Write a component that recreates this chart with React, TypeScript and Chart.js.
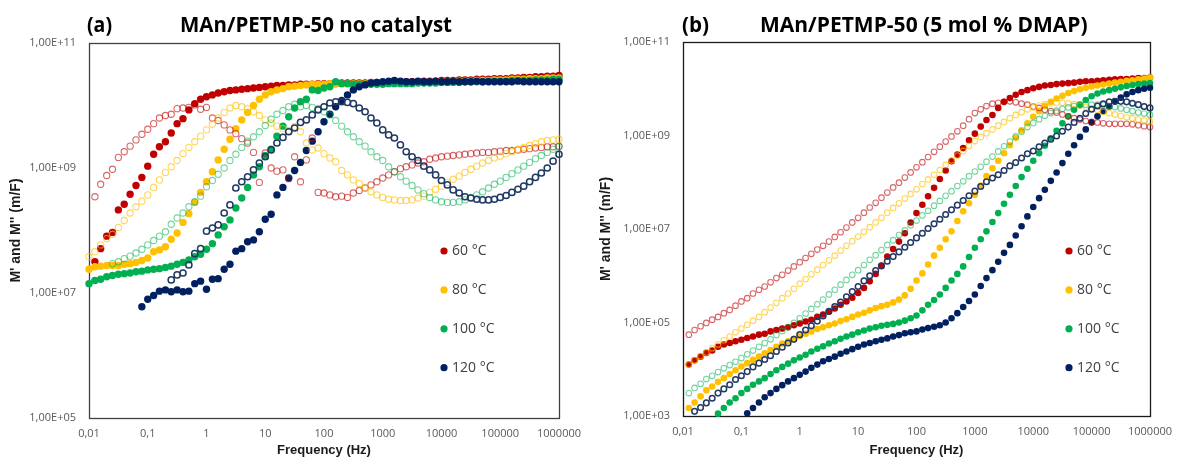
import React, { useEffect, useRef } from "react";
import { Chart, registerables } from "chart.js";

Chart.register(...registerables);

// Measurement frequencies (Hz), 10 points per decade
const FREQ_HZ = [
  0.01,
  0.0126, 0.0158, 0.02, 0.0251, 0.0316, 0.0398, 0.0501, 0.0631, 0.0794, 0.1,
  0.126, 0.158, 0.2, 0.251, 0.316, 0.398, 0.501, 0.631, 0.794, 1,
  1.26, 1.58, 2, 2.51, 3.16, 3.98, 5.01, 6.31, 7.94, 10,
  12.6, 15.8, 20, 25.1, 31.6, 39.8, 50.1, 63.1, 79.4, 100,
  126, 158, 200, 251, 316, 398, 501, 631, 794, 1000,
  1260, 1580, 2000, 2510, 3160, 3980, 5010, 6310, 7940, 10000,
  12600, 15800, 20000, 25100, 31600, 39800, 50100, 63100, 79400, 100000,
  126000, 158000, 200000, 251000, 316000, 398000, 501000, 631000, 794000, 1000000,
];

const X_TICK_VALUES = [0.01, 0.1, 1, 10, 100, 1000, 10000, 100000, 1000000];
const X_TICK_LABELS = ["0,01", "0,1", "1", "10", "100", "1000", "10000", "100000", "1000000"];
const Y_TICK_VALUES_A = [1e5, 1e7, 1e9, 1e11];
const Y_TICK_LABELS_A = ["1,00E+05", "1,00E+07", "1,00E+09", "1,00E+11"];
const Y_TICK_VALUES_B = [1e3, 1e5, 1e7, 1e9, 1e11];
const Y_TICK_LABELS_B = ["1,00E+03", "1,00E+05", "1,00E+07", "1,00E+09", "1,00E+11"];

const TEMPERATURES = ["60 °C", "80 °C", "100 °C", "120 °C"];
const SERIES_COLORS = ["#C00000", "#FFC000", "#00B050", "#002060"];
const HOLLOW_COLORS = ["rgba(192,0,0,0.6)", "rgba(255,192,0,0.65)", "rgba(0,176,80,0.55)", "#203864"];

// Values are log10(M), aligned with FREQ_HZ (null = no point)
// ---- (a) no catalyst ----
const A_M1_60 = [null,
  7.50, 7.71, 7.91, 7.97, 8.33, 8.42, 8.58, 8.72, 8.85, 9.03,
  9.22, 9.34, 9.42, 9.56, 9.71, 9.79, 9.93, 10.03, 10.10, 10.14,
  10.17, 10.20, 10.22, 10.24, 10.25, 10.26, 10.27, 10.28, 10.29, 10.30,
  10.31, 10.32, 10.32, 10.33, 10.33, 10.34, 10.34, 10.34, 10.35, 10.35,
  10.35, 10.35, 10.36, 10.36, 10.36, 10.36, 10.36, 10.37, 10.37, 10.37,
  10.37, 10.37, 10.38, 10.38, 10.38, 10.38, 10.39, 10.39, 10.39, 10.40,
  10.40, 10.40, 10.41, 10.41, 10.41, 10.42, 10.42, 10.42, 10.43, 10.43,
  10.43, 10.44, 10.44, 10.45, 10.45, 10.46, 10.46, 10.47, 10.47, 10.48];
const A_M2_60 = [null,
  8.54, 8.74, 8.88, 8.98, 9.17, 9.26, 9.35, 9.45, 9.54, 9.62,
  9.71, 9.80, 9.84, 9.86, 9.95, 9.96, 9.97, 10.01, 9.94, 9.97,
  9.80, 9.76, 9.69, 9.61, 9.55, 9.47, 9.40, 9.25, 8.77, 9.24,
  9.00, 8.95, 8.97, 8.83, 9.18, 8.78, 9.13, 9.48, 8.61, 8.60,
  8.57, 8.54, 8.55, 8.53, 8.60, 8.64, 8.68, 8.73, 8.78, 8.84,
  8.89, 8.94, 8.99, 9.02, 9.05, 9.08, 9.10, 9.14, 9.16, 9.18,
  9.19, 9.20, 9.21, 9.22, 9.23, 9.24, 9.25, 9.25, 9.26, 9.27,
  9.28, 9.28, 9.29, 9.30, 9.31, 9.32, 9.33, 9.34, 9.34, 9.35];
const A_M1_80 = [7.38,
  7.42, 7.43, 7.44, 7.44, 7.44, 7.46, 7.47, 7.49, 7.52, 7.56,
  7.66, 7.69, 7.74, 7.86, 7.96, 8.13, 8.27, 8.45, 8.61, 8.78,
  8.94, 9.13, 9.30, 9.46, 9.63, 9.77, 9.89, 10.00, 10.10, 10.17,
  10.22, 10.25, 10.27, 10.30, 10.31, 10.32, 10.33, 10.34, 10.34, 10.34,
  10.35, 10.35, 10.35, 10.35, 10.35, 10.35, 10.35, 10.36, 10.36, 10.36,
  10.36, 10.36, 10.36, 10.37, 10.37, 10.37, 10.37, 10.38, 10.38, 10.38,
  10.38, 10.39, 10.39, 10.39, 10.39, 10.40, 10.40, 10.40, 10.41, 10.41,
  10.41, 10.42, 10.42, 10.42, 10.43, 10.43, 10.43, 10.44, 10.44, 10.44];
const A_M2_80 = [7.58,
  7.66, 7.77, 7.87, 7.94, 8.05, 8.16, 8.28, 8.38, 8.47, 8.57,
  8.69, 8.81, 8.93, 9.02, 9.12, 9.23, 9.33, 9.42, 9.51, 9.61,
  9.70, 9.80, 9.89, 9.96, 10.00, 9.98, 9.95, 9.90, 9.84, 9.77,
  9.72, 9.67, 9.63, 9.60, 9.66, 9.58, 9.40, 9.29, 9.32, 9.23,
  9.16, 9.10, 8.96, 8.89, 8.81, 8.75, 8.68, 8.62, 8.57, 8.53,
  8.50, 8.49, 8.48, 8.48, 8.49, 8.52, 8.55, 8.61, 8.66, 8.71,
  8.77, 8.82, 8.87, 8.93, 8.98, 9.03, 9.08, 9.12, 9.16, 9.19,
  9.23, 9.26, 9.30, 9.33, 9.36, 9.39, 9.42, 9.44, 9.45, 9.46];
const A_M1_100 = [7.15,
  7.20, 7.22, 7.26, 7.28, 7.30, 7.31, 7.32, 7.34, 7.35, 7.37,
  7.38, 7.39, 7.41, 7.43, 7.46, 7.49, 7.53, 7.58, 7.62, 7.70,
  7.79, 7.93, 8.06, 8.17, 8.36, 8.52, 8.69, 8.89, 9.02, 9.20,
  9.30, 9.51, 9.67, 9.82, 9.96, 10.06, 10.10, 10.25, 10.24, 10.28,
  10.30, 10.38, 10.35, 10.35, 10.34, 10.34, 10.34, 10.34, 10.34, 10.34,
  10.35, 10.35, 10.35, 10.35, 10.35, 10.36, 10.36, 10.36, 10.36, 10.37,
  10.37, 10.37, 10.37, 10.38, 10.38, 10.38, 10.38, 10.39, 10.39, 10.39,
  10.39, 10.40, 10.40, 10.40, 10.40, 10.41, 10.41, 10.41, 10.42, 10.42];
const A_M2_100 = [null,
  null, null, null, 7.47, 7.50, 7.55, 7.59, 7.64, 7.70, 7.77,
  7.84, 7.91, 7.98, 8.10, 8.20, 8.28, 8.38, 8.46, 8.55, 8.70,
  8.80, 8.90, 9.00, 9.12, 9.22, 9.33, 9.43, 9.50, 9.58, 9.68,
  9.78, 9.86, 9.92, 9.98, 10.02, 9.98, 10.00, 9.97, 9.95, 9.90,
  9.85, 9.76, 9.67, 9.58, 9.50, 9.42, 9.35, 9.26, 9.18, 9.12,
  9.02, 8.94, 8.86, 8.79, 8.72, 8.65, 8.59, 8.53, 8.49, 8.46,
  8.45, 8.45, 8.46, 8.49, 8.53, 8.57, 8.62, 8.68, 8.74, 8.79,
  8.85, 8.91, 8.97, 9.03, 9.09, 9.15, 9.20, 9.25, 9.30, 9.34];
const A_M1_120 = [null,
  null, null, null, null, null, null, null, null, 6.78, 6.90,
  6.96, 7.03, 7.05, 7.02, 7.05, 7.02, 7.03, 7.15, 7.19, 7.06,
  7.22, 7.23, 7.38, 7.46, 7.67, 7.71, 7.82, 7.85, 7.98, 8.18,
  8.26, 8.57, 8.69, 8.84, 8.96, 9.09, 9.28, 9.43, 9.58, 9.74,
  9.86, 9.98, 10.08, 10.17, 10.25, 10.30, 10.33, 10.36, 10.37, 10.38,
  10.39, 10.40, 10.39, 10.38, 10.38, 10.39, 10.38, 10.38, 10.39, 10.38,
  10.38, 10.39, 10.38, 10.38, 10.38, 10.39, 10.38, 10.38, 10.38, 10.38,
  10.38, 10.38, 10.39, 10.38, 10.38, 10.38, 10.38, 10.38, 10.38, 10.38];
const A_M2_120 = [null,
  null, null, null, null, null, null, null, null, null, null,
  null, null, null, 7.21, 7.29, 7.32, 7.45, 7.63, 7.71, 7.99,
  8.04, 8.09, 8.28, 8.41, 8.68, 8.78, 8.86, 8.97, 9.08, 9.18,
  9.29, 9.40, 9.49, 9.58, 9.64, 9.73, 9.77, 9.85, 9.93, 9.98,
  10.04, 10.06, 10.06, 10.05, 10.03, 9.96, 9.90, 9.80, 9.72, 9.61,
  9.53, 9.48, 9.37, 9.26, 9.18, 9.12, 9.03, 8.97, 8.89, 8.80,
  8.73, 8.65, 8.60, 8.54, 8.52, 8.50, 8.49, 8.49, 8.50, 8.53,
  8.56, 8.61, 8.66, 8.71, 8.78, 8.85, 8.92, 9.00, 9.11, 9.22];

// ---- (b) 5 mol % DMAP ----
const B_M1_60 = [null,
  4.10, 4.19, 4.27, 4.35, 4.40, 4.48, 4.53, 4.56, 4.60, 4.63,
  4.67, 4.70, 4.74, 4.76, 4.81, 4.84, 4.87, 4.90, 4.94, 4.98,
  5.02, 5.06, 5.12, 5.17, 5.23, 5.30, 5.38, 5.45, 5.53, 5.63,
  5.74, 5.88, 6.04, 6.22, 6.41, 6.57, 6.73, 6.91, 7.14, 7.34,
  7.52, 7.70, 7.88, 8.07, 8.25, 8.45, 8.59, 8.73, 8.90, 9.04,
  9.19, 9.33, 9.44, 9.59, 9.72, 9.80, 9.87, 9.93, 9.97, 10.01,
  10.04, 10.07, 10.08, 10.10, 10.11, 10.12, 10.13, 10.15, 10.16, 10.16,
  10.17, 10.18, 10.19, 10.20, 10.21, 10.21, 10.22, 10.23, 10.23, 10.24];
const B_M2_60 = [null,
  4.74, 4.84, 4.92, 4.99, 5.06, 5.12, 5.20, 5.27, 5.36, 5.45,
  5.52, 5.62, 5.70, 5.77, 5.86, 5.95, 6.02, 6.11, 6.20, 6.29,
  6.38, 6.47, 6.56, 6.64, 6.73, 6.83, 6.93, 7.03, 7.14, 7.24,
  7.35, 7.46, 7.56, 7.67, 7.78, 7.89, 7.99, 8.10, 8.21, 8.32,
  8.43, 8.54, 8.65, 8.76, 8.87, 8.98, 9.09, 9.21, 9.35, 9.48,
  9.56, 9.63, 9.68, 9.70, 9.72, 9.73, 9.71, 9.68, 9.66, 9.62,
  9.59, 9.55, 9.52, 9.49, 9.45, 9.41, 9.37, 9.34, 9.31, 9.29,
  9.28, 9.26, 9.25, 9.25, 9.25, 9.25, 9.24, 9.22, 9.20, 9.18];
const B_M1_80 = [null,
  3.17, 3.29, 3.42, 3.55, 3.63, 3.73, 3.81, 3.90, 3.98, 4.06,
  4.13, 4.20, 4.27, 4.34, 4.41, 4.48, 4.55, 4.60, 4.65, 4.71,
  4.76, 4.81, 4.86, 4.90, 4.94, 4.98, 5.03, 5.07, 5.12, 5.17,
  5.21, 5.26, 5.31, 5.35, 5.38, 5.43, 5.49, 5.58, 5.72, 5.90,
  6.05, 6.24, 6.43, 6.60, 6.78, 6.95, 7.17, 7.38, 7.55, 7.73,
  7.93, 8.13, 8.30, 8.46, 8.62, 8.79, 8.95, 9.11, 9.26, 9.40,
  9.52, 9.63, 9.72, 9.79, 9.85, 9.91, 9.95, 9.99, 10.02, 10.05,
  10.07, 10.09, 10.11, 10.13, 10.15, 10.17, 10.18, 10.20, 10.22, 10.24];
const B_M2_80 = [null,
  4.10, 4.19, 4.28, 4.36, 4.45, 4.53, 4.62, 4.70, 4.79, 4.87,
  4.95, 5.04, 5.12, 5.22, 5.32, 5.42, 5.52, 5.62, 5.72, 5.83,
  5.93, 6.03, 6.13, 6.23, 6.33, 6.43, 6.54, 6.64, 6.74, 6.84,
  6.94, 7.04, 7.14, 7.24, 7.35, 7.45, 7.55, 7.65, 7.75, 7.85,
  7.96, 8.06, 8.16, 8.26, 8.37, 8.47, 8.57, 8.67, 8.78, 8.88,
  8.97, 9.05, 9.13, 9.21, 9.29, 9.37, 9.44, 9.50, 9.56, 9.60,
  9.64, 9.67, 9.69, 9.70, 9.70, 9.69, 9.67, 9.64, 9.61, 9.58,
  9.55, 9.51, 9.48, 9.45, 9.42, 9.39, 9.37, 9.34, 9.32, 9.30];
const B_M1_100 = [null,
  null, null, null, null, null, 3.05, 3.17, 3.29, 3.38, 3.49,
  3.58, 3.67, 3.74, 3.81, 3.90, 3.98, 4.05, 4.12, 4.19, 4.25,
  4.31, 4.38, 4.44, 4.49, 4.55, 4.60, 4.65, 4.70, 4.74, 4.79,
  4.83, 4.87, 4.90, 4.93, 4.95, 4.97, 5.00, 5.04, 5.09, 5.15,
  5.26, 5.38, 5.48, 5.60, 5.74, 5.90, 6.04, 6.20, 6.40, 6.60,
  6.78, 6.95, 7.15, 7.34, 7.54, 7.73, 7.92, 8.11, 8.29, 8.46,
  8.62, 8.78, 8.94, 9.10, 9.26, 9.41, 9.55, 9.66, 9.76, 9.84,
  9.90, 9.94, 9.97, 10.00, 10.03, 10.06, 10.08, 10.10, 10.11, 10.12];
const B_M2_100 = [null,
  3.49, 3.60, 3.69, 3.79, 3.86, 3.94, 4.02, 4.09, 4.16, 4.24,
  4.32, 4.40, 4.48, 4.56, 4.64, 4.73, 4.82, 4.90, 4.99, 5.09,
  5.19, 5.29, 5.39, 5.49, 5.60, 5.70, 5.81, 5.91, 6.02, 6.12,
  6.23, 6.34, 6.44, 6.55, 6.66, 6.76, 6.87, 6.97, 7.08, 7.18,
  7.29, 7.39, 7.50, 7.60, 7.71, 7.81, 7.92, 8.02, 8.13, 8.23,
  8.33, 8.44, 8.55, 8.66, 8.77, 8.87, 8.98, 9.08, 9.18, 9.27,
  9.35, 9.42, 9.48, 9.53, 9.57, 9.60, 9.63, 9.65, 9.66, 9.66,
  9.66, 9.65, 9.63, 9.61, 9.58, 9.55, 9.52, 9.49, 9.47, 9.44];
const B_M1_120 = [null,
  null, null, null, null, null, null, null, null, null, null,
  3.06, 3.17, 3.29, 3.40, 3.49, 3.58, 3.66, 3.74, 3.81, 3.88,
  3.95, 4.03, 4.10, 4.17, 4.22, 4.27, 4.33, 4.38, 4.43, 4.48,
  4.53, 4.56, 4.60, 4.63, 4.66, 4.70, 4.73, 4.77, 4.79, 4.81,
  4.85, 4.88, 4.91, 4.94, 5.00, 5.09, 5.20, 5.33, 5.46, 5.60,
  5.78, 5.95, 6.12, 6.30, 6.49, 6.66, 6.86, 7.06, 7.27, 7.47,
  7.66, 7.84, 8.03, 8.21, 8.41, 8.61, 8.79, 8.97, 9.13, 9.28,
  9.41, 9.52, 9.62, 9.73, 9.81, 9.88, 9.93, 9.97, 10.00, 10.02];
const B_M2_120 = [null,
  null, 3.10, 3.18, 3.28, 3.38, 3.49, 3.58, 3.67, 3.78, 3.86,
  3.95, 4.05, 4.13, 4.21, 4.29, 4.38, 4.47, 4.56, 4.64, 4.74,
  4.84, 4.93, 5.03, 5.14, 5.24, 5.34, 5.44, 5.55, 5.66, 5.77,
  5.89, 6.00, 6.11, 6.21, 6.31, 6.41, 6.51, 6.61, 6.71, 6.81,
  6.91, 7.01, 7.11, 7.21, 7.31, 7.41, 7.51, 7.61, 7.71, 7.81,
  7.91, 8.01, 8.09, 8.16, 8.25, 8.35, 8.42, 8.52, 8.61, 8.67,
  8.76, 8.84, 8.92, 8.99, 9.09, 9.18, 9.28, 9.37, 9.47, 9.56,
  9.63, 9.68, 9.72, 9.73, 9.73, 9.72, 9.69, 9.66, 9.62, 9.59];

function toPoints(logs) {
  const pts = [];
  logs.forEach((v, i) => {
    if (v !== null && v !== undefined) pts.push({ x: FREQ_HZ[i], y: Math.pow(10, v) });
  });
  return pts;
}

const decorPlugin = {
  id: "decor",
  beforeDatasetsDraw(chart, _args, opts) {
    const { ctx, chartArea: a } = chart;
    ctx.save();
    ctx.strokeStyle = opts.borderColor;
    ctx.lineWidth = opts.borderWidth;
    const l = Math.round(a.left) + 0.5;
    const t = Math.round(a.top) + 0.5;
    const r = Math.round(a.right) + 0.5;
    const b = Math.round(a.bottom) + 0.5;
    ctx.strokeRect(l, t, r - l, b - t);
    ctx.restore();
  },
  afterDraw(chart, _args, opts) {
    const { ctx } = chart;
    ctx.save();
    ctx.fillStyle = "#000";
    ctx.textBaseline = "alphabetic";
    ctx.textAlign = "left";
    const fit = (text, x, y, maxW) => {
      ctx.font = '700 21px "Open Sans", "Liberation Sans", sans-serif';
      const w = ctx.measureText(text).width;
      const s = w > maxW ? maxW / w : 1;
      ctx.save();
      ctx.translate(x, y);
      ctx.scale(s, 1);
      ctx.fillText(text, 0, 0);
      ctx.restore();
    };
    fit(opts.tag, opts.tagX, opts.titleY, opts.tagW);
    fit(opts.title, opts.titleX, opts.titleY, opts.titleW);

    // legend (filled markers only)
    ctx.font = '14px "Open Sans", "Liberation Sans", sans-serif';
    ctx.textBaseline = "middle";
    TEMPERATURES.forEach((label, i) => {
      const y = opts.legendY + i * opts.legendStep;
      ctx.fillStyle = SERIES_COLORS[i];
      ctx.beginPath();
      ctx.arc(opts.legendX, y, 3.6, 0, Math.PI * 2);
      ctx.fill();
      ctx.fillStyle = "#404040";
      ctx.fillText(label, opts.legendX + 8, y + 0.5);
    });
    ctx.restore();
  },
};

function makeConfig(spec) {
  const datasets = [];
  spec.real.forEach((arr, i) => {
    datasets.push({
      label: "M' " + TEMPERATURES[i],
      data: toPoints(arr),
      pointRadius: spec.filledR,
      pointBackgroundColor: SERIES_COLORS[i],
      pointBorderColor: SERIES_COLORS[i],
      pointBorderWidth: 0,
      showLine: false,
      clip: false,
    });
  });
  spec.imag.forEach((arr, i) => {
    datasets.push({
      label: "M'' " + TEMPERATURES[i],
      data: toPoints(arr),
      pointRadius: spec.hollowR,
      pointBackgroundColor: "rgba(255,255,255,0)",
      pointBorderColor: HOLLOW_COLORS[i],
      pointBorderWidth: i === 3 ? 1.5 : 1.1,
      showLine: false,
      clip: false,
    });
  });
  // later series drawn on top
  datasets.forEach((d, i) => { d.order = datasets.length - i; });

  const tickFont = { family: '"Open Sans", "Liberation Sans", sans-serif', size: 11 };
  const titleFont = { family: '"Liberation Sans", Arial, sans-serif', weight: "bold" };

  return {
    type: "scatter",
    data: { datasets },
    plugins: [decorPlugin],
    options: {
      responsive: false,
      animation: false,
      devicePixelRatio: 1,
      events: [],
      layout: { padding: { left: 0, right: spec.padRight, top: spec.padTop, bottom: 0 } },
      plugins: {
        legend: { display: false },
        tooltip: { enabled: false },
        decor: spec.decor,
      },
      scales: {
        x: {
          type: "logarithmic",
          min: 0.01,
          max: 1000000,
          grid: { display: false, drawTicks: false },
          border: { display: false },
          afterBuildTicks: (scale) => { scale.ticks = X_TICK_VALUES.map((v) => ({ value: v })); },
          afterFit: (scale) => { scale.height = spec.xHeight; },
          ticks: {
            autoSkip: false,
            maxRotation: 0,
            padding: 9,
            color: "#595959",
            font: tickFont,
            callback: (_v, idx) => X_TICK_LABELS[idx],
          },
          title: {
            display: true,
            text: "Frequency (Hz)",
            color: "#1a1a1a",
            font: { ...titleFont, size: 13 },
            padding: { top: 0, bottom: 3 },
          },
        },
        y: {
          type: "logarithmic",
          min: spec.yTicks[0],
          max: spec.yTicks[spec.yTicks.length - 1],
          grid: { display: false, drawTicks: false },
          border: { display: false },
          afterBuildTicks: (scale) => { scale.ticks = spec.yTicks.map((v) => ({ value: v })); },
          afterFit: (scale) => { scale.width = spec.yWidth; },
          ticks: {
            autoSkip: false,
            padding: 13,
            color: "#595959",
            font: tickFont,
            callback: (_v, idx) => spec.yLabels[idx],
          },
          title: {
            display: true,
            text: "M' and M'' (m/F)",
            color: "#1a1a1a",
            font: { ...titleFont, size: 14 },
            padding: { top: 8, bottom: 0 },
          },
        },
      },
    },
  };
}

export default function App() {
  const refA = useRef(null);
  const refB = useRef(null);

  useEffect(() => {
    const chartA = new Chart(refA.current, makeConfig({
      real: [A_M1_60, A_M1_80, A_M1_100, A_M1_120],
      imag: [A_M2_60, A_M2_80, A_M2_100, A_M2_120],
      yTicks: Y_TICK_VALUES_A,
      yLabels: Y_TICK_LABELS_A,
      filledR: 3.7,
      hollowR: 3.1,
      padRight: 29,
      padTop: 43,
      xHeight: 43,
      yWidth: 89,
      decor: {
        borderColor: "#404040",
        borderWidth: 1.3,
        tag: "(a)", tagX: 87, tagW: 25,
        title: "MAn/PETMP-50 no catalyst", titleX: 180, titleW: 272, titleY: 32,
        legendX: 444, legendY: 251, legendStep: 38.9,
      },
    }));
    const chartB = new Chart(refB.current, makeConfig({
      real: [B_M1_60, B_M1_80, B_M1_100, B_M1_120],
      imag: [B_M2_60, B_M2_80, B_M2_100, B_M2_120],
      yTicks: Y_TICK_VALUES_B,
      yLabels: Y_TICK_LABELS_B,
      filledR: 3.3,
      hollowR: 2.8,
      padRight: 26,
      padTop: 42,
      xHeight: 45,
      yWidth: 93,
      decor: {
        borderColor: "#1a1a1a",
        borderWidth: 1.3,
        tag: "(b)", tagX: 92, tagW: 27,
        title: "MAn/PETMP-50 (5 mol % DMAP)", titleX: 170, titleW: 328, titleY: 32,
        legendX: 479, legendY: 251, legendStep: 38.9,
      },
    }));
    return () => {
      chartA.destroy();
      chartB.destroy();
    };
  }, []);

  return (
    <div style={{ position: "absolute", left: 0, top: 0, width: 1181, height: 461, background: "#fff" }}>
      <canvas ref={refA} width={590} height={461} style={{ position: "absolute", left: 0, top: 0 }} />
      <canvas ref={refB} width={591} height={461} style={{ position: "absolute", left: 590, top: 0 }} />
    </div>
  );
}
